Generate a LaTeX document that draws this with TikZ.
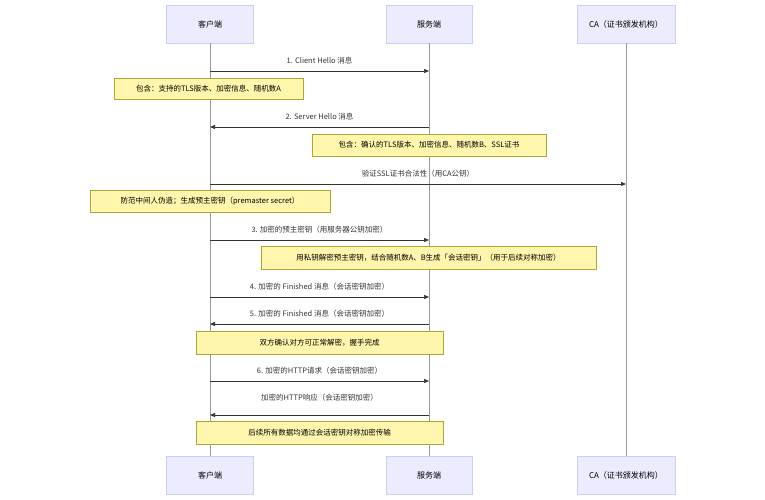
\documentclass[tikz,border=0pt]{standalone}
\usepackage{fontspec}
\setmainfont{Noto Sans CJK SC}
\usetikzlibrary{arrows.meta}
\definecolor{actf}{HTML}{ECECFF}
\definecolor{actd}{HTML}{CCCCFF}
\definecolor{notef}{HTML}{FFF5AD}
\definecolor{noted}{HTML}{AAAA33}
\definecolor{life}{HTML}{999999}
\definecolor{msg}{HTML}{333333}
\begin{document}
\begin{tikzpicture}[x=1pt,y=-1pt,
  actor/.style={draw=actd,fill=actf,line width=0.6pt,font=\fontsize{8}{9}\selectfont,text=black},
  note/.style={draw=noted,fill=notef,line width=0.6pt,font=\fontsize{7.5}{9}\selectfont,text=black},
  lbl/.style={font=\fontsize{7.5}{9}\selectfont,text=msg},
  m/.style={draw=msg,line width=0.7pt,-{Triangle[length=5pt,width=4pt]}},
  lf/.style={draw=life,line width=0.6pt}]
\useasboundingbox (0,0) rectangle (765,500);
\foreach \n/\x/\w/\t in {c/210/87/客户端, s/429/86/服务端, a/626/98/CA（证书颁发机构）}{
  \node[actor,minimum width=\w pt,minimum height=38pt] (\n t) at (\x,24) {\t};
  \node[actor,minimum width=\w pt,minimum height=38pt] (\n b) at (\x,475) {\t};
  \draw[lf] (\n t.south) -- (\n b.north);
}
\coordinate (c1) at (210,71); \coordinate (s1) at (429,71);
\draw[m] (c1) -- node[lbl,above=3pt]{1. Client Hello 消息} (s1);
\node[note,minimum width=189pt,minimum height=21pt] (n1) at (208.5,88.5) {包含：支持的TLS版本、加密信息、随机数A};
\coordinate (c2) at (210,127); \coordinate (s2) at (429,127);
\draw[m] (s2) -- node[lbl,above=3pt]{2. Server Hello 消息} (c2);
\node[note,minimum width=234pt,minimum height=22pt] (n2) at (429,145) {包含：确认的TLS版本、加密信息、随机数B、SSL证书};
\coordinate (c3) at (210,184); \coordinate (a3) at (626,184);
\draw[m] (c3) -- node[lbl,above=3pt]{验证SSL证书合法性（用CA公钥）} (a3);
\node[note,minimum width=240pt,minimum height=22pt] (n3) at (210,201) {防范中间人伪造；生成预主密钥（premaster secret）};
\coordinate (c4) at (210,240); \coordinate (s4) at (429,240);
\draw[m] (c4) -- node[lbl,above=3pt]{3. 加密的预主密钥（用服务器公钥加密）} (s4);
\node[note,minimum width=335pt,minimum height=23pt] (n4) at (428.5,257.5) {用私钥解密预主密钥，结合随机数A、B生成「会话密钥」（用于后续对称加密）};
\coordinate (c5) at (210,297); \coordinate (s5) at (429,297);
\draw[m] (c5) -- node[lbl,above=3pt]{4. 加密的 Finished 消息（会话密钥加密）} (s5);
\coordinate (c6) at (210,324); \coordinate (s6) at (429,324);
\draw[m] (s6) -- node[lbl,above=3pt]{5. 加密的 Finished 消息（会话密钥加密）} (c6);
\node[note,minimum width=247pt,minimum height=23pt] (n5) at (319.5,342.5) {双方确认对方可正常解密，握手完成};
\coordinate (c7) at (210,381); \coordinate (s7) at (429,381);
\draw[m] (c7) -- node[lbl,above=3pt]{6. 加密的HTTP请求（会话密钥加密）} (s7);
\coordinate (c8) at (210,415); \coordinate (s8) at (429,415);
\draw[m] (s8) -- node[lbl,above=10pt]{加密的HTTP响应（会话密钥加密）} (c8);
\node[note,minimum width=247pt,minimum height=23pt] (n6) at (319.5,432.5) {后续所有数据均通过会话密钥对称加密传输};
\end{tikzpicture}
\end{document}
